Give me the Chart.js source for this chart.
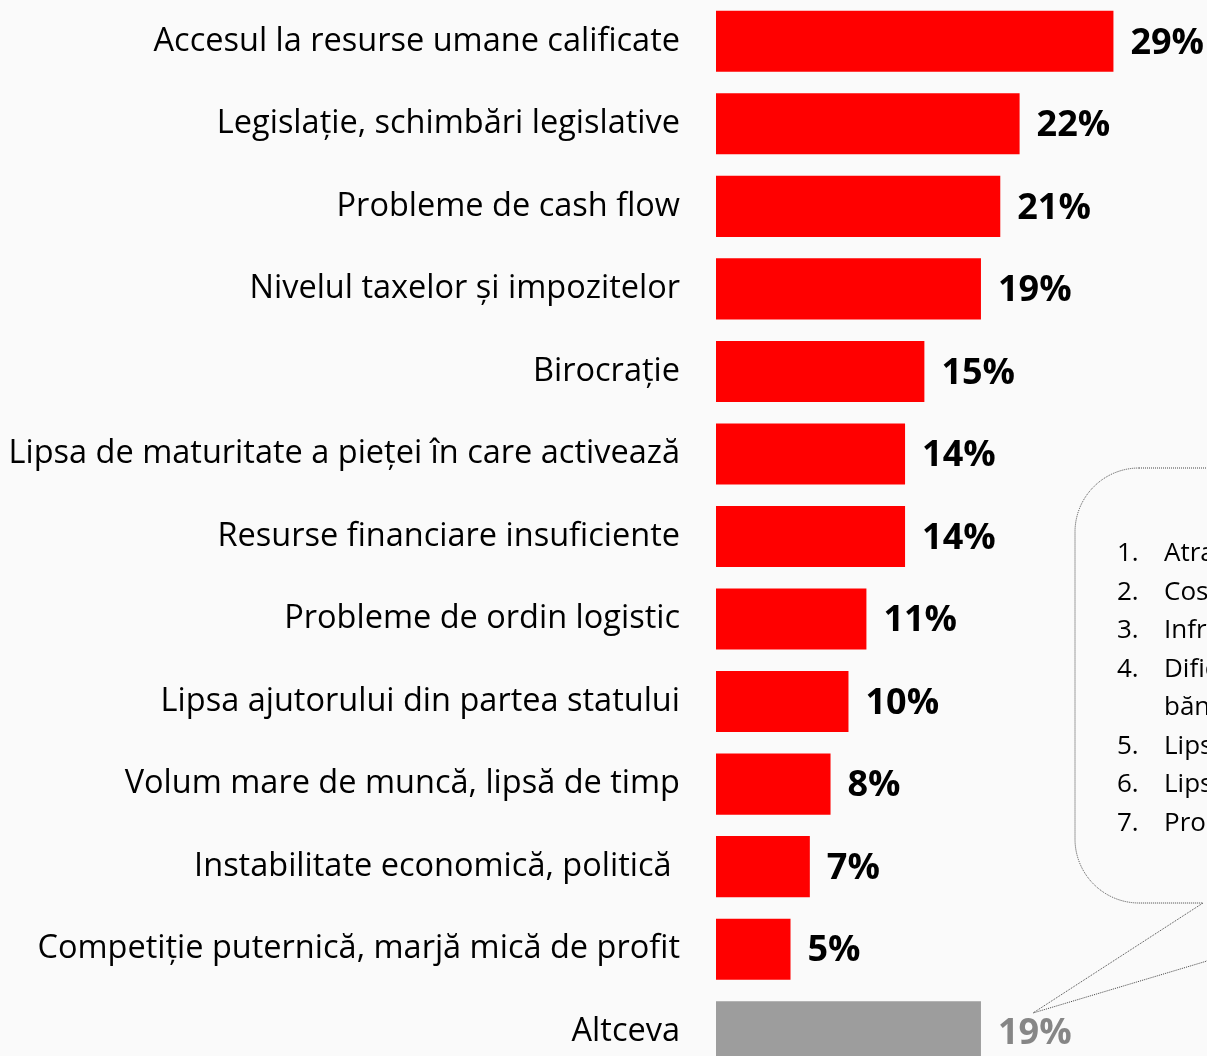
<!DOCTYPE html>
<html>
<head>
<meta charset="utf-8">
<script src="https://cdn.jsdelivr.net/npm/chart.js@4/dist/chart.umd.min.js"></script>
<style>
  html, body { margin: 0; padding: 0; background: #fafafa; overflow: hidden; }
  #wrap { position: absolute; left: 0; top: 0; width: 1207px; height: 1073px; }
</style>
</head>
<body>
<div id="wrap"><canvas id="grafic" width="1207" height="1073"></canvas></div>
<script>
// categorii (de sus in jos)
const categorii = [
  'Accesul la resurse umane calificate',
  'Legislație, schimbări legislative',
  'Probleme de cash flow',
  'Nivelul taxelor și impozitelor',
  'Birocrație',
  'Lipsa de maturitate a pieței în care activează',
  'Resurse financiare insuficiente',
  'Probleme de ordin logistic',
  'Lipsa ajutorului din partea statului',
  'Volum mare de muncă, lipsă de timp',
  'Instabilitate economică, politică ',
  'Competiție puternică, marjă mică de profit',
  'Altceva'
];
// procente (estimate din lungimea barelor)
const valori = [28.8, 22.0, 20.6, 19.2, 15.1, 13.7, 13.7, 10.9, 9.6, 8.3, 6.8, 5.4, 19.2];
// etichete afisate langa bare
const etichete = ['29%', '22%', '21%', '19%', '15%', '14%', '14%', '11%', '10%', '8%', '7%', '5%', '19%'];
// lista din balon (taiata la marginea imaginii)
const altceva = [
  ['1.', 'Atragerea clienților'],
  ['2.', 'Costuri ridicate'],
  ['3.', 'Infrastructura deficitară'],
  ['4.', 'Dificultăți în relația cu'],
  ['', 'băncile'],
  ['5.', 'Lipsa informațiilor'],
  ['6.', 'Lipsa furnizorilor'],
  ['7.', 'Probleme cu partenerii']
];

const culori = valori.map((v, i) => i === valori.length - 1 ? '#9d9d9d' : '#ff0000');

// etichete procentuale la capatul barelor
const pluginEtichete = {
  id: 'etichete',
  afterDatasetsDraw(chart) {
    const ctx = chart.ctx;
    const meta = chart.getDatasetMeta(0);
    ctx.save();
    ctx.font = 'bold 36px "Open Sans"';
    ctx.textBaseline = 'middle';
    ctx.textAlign = 'left';
    meta.data.forEach((bar, i) => {
      ctx.fillStyle = i === meta.data.length - 1 ? '#868686' : '#000';
      ctx.fillText(etichete[i], bar.x + 17, bar.y + 2);
    });
    ctx.restore();
  }
};

// balonul cu lista "Altceva"
const pluginBalon = {
  id: 'balon',
  afterDraw(chart) {
    const ctx = chart.ctx;
    const x0 = 1075, y0 = 468, x1 = 1330, y1 = 903, r = 64;
    ctx.save();
    ctx.beginPath();
    ctx.moveTo(x0 + r, y0);
    ctx.lineTo(x1 - r, y0);
    ctx.arcTo(x1, y0, x1, y0 + r, r);
    ctx.lineTo(x1, y1 - r);
    ctx.arcTo(x1, y1, x1 - r, y1, r);
    ctx.lineTo(1245, y1);
    ctx.lineTo(1207, 961);
    ctx.lineTo(1033, 1013);
    ctx.lineTo(1203, y1);
    ctx.lineTo(x0 + r, y1);
    ctx.arcTo(x0, y1, x0, y1 - r, r);
    ctx.lineTo(x0, y0 + r);
    ctx.arcTo(x0, y0, x0 + r, y0, r);
    ctx.closePath();
    ctx.fillStyle = '#fafafa';
    ctx.fill();
    ctx.setLineDash([1, 1]);
    ctx.lineWidth = 1;
    ctx.strokeStyle = '#444';
    ctx.stroke();
    ctx.setLineDash([]);

    ctx.font = '26px "Open Sans"';
    ctx.fillStyle = '#000';
    ctx.textBaseline = 'middle';
    altceva.forEach((rand, i) => {
      const y = 554 + i * 38.5;
      ctx.fillText(rand[0], 1117, y);
      ctx.fillText(rand[1], 1164, y);
    });
    ctx.restore();
  }
};

new Chart(document.getElementById('grafic'), {
  type: 'bar',
  data: {
    labels: categorii,
    datasets: [{
      data: valori,
      backgroundColor: culori,
      borderWidth: 0,
      barPercentage: 0.74,
      categoryPercentage: 1
    }]
  },
  options: {
    indexAxis: 'y',
    responsive: false,
    animation: false,
    layout: { padding: { left: 0, right: 8, top: 0, bottom: 0 } },
    scales: {
      x: { display: false, min: 0, max: 35 },
      y: {
        grid: { display: false, drawTicks: false },
        border: { display: false },
        ticks: {
          color: '#000',
          padding: 36,
          font: { family: 'Open Sans', size: 32.5 }
        },
        afterFit(scale) {
          scale.width = 716;
          scale.paddingTop = 0;
          scale.paddingBottom = 0;
        }
      }
    },
    plugins: {
      legend: { display: false },
      tooltip: { enabled: false }
    }
  },
  plugins: [pluginEtichete, pluginBalon]
});
</script>
</body>
</html>
